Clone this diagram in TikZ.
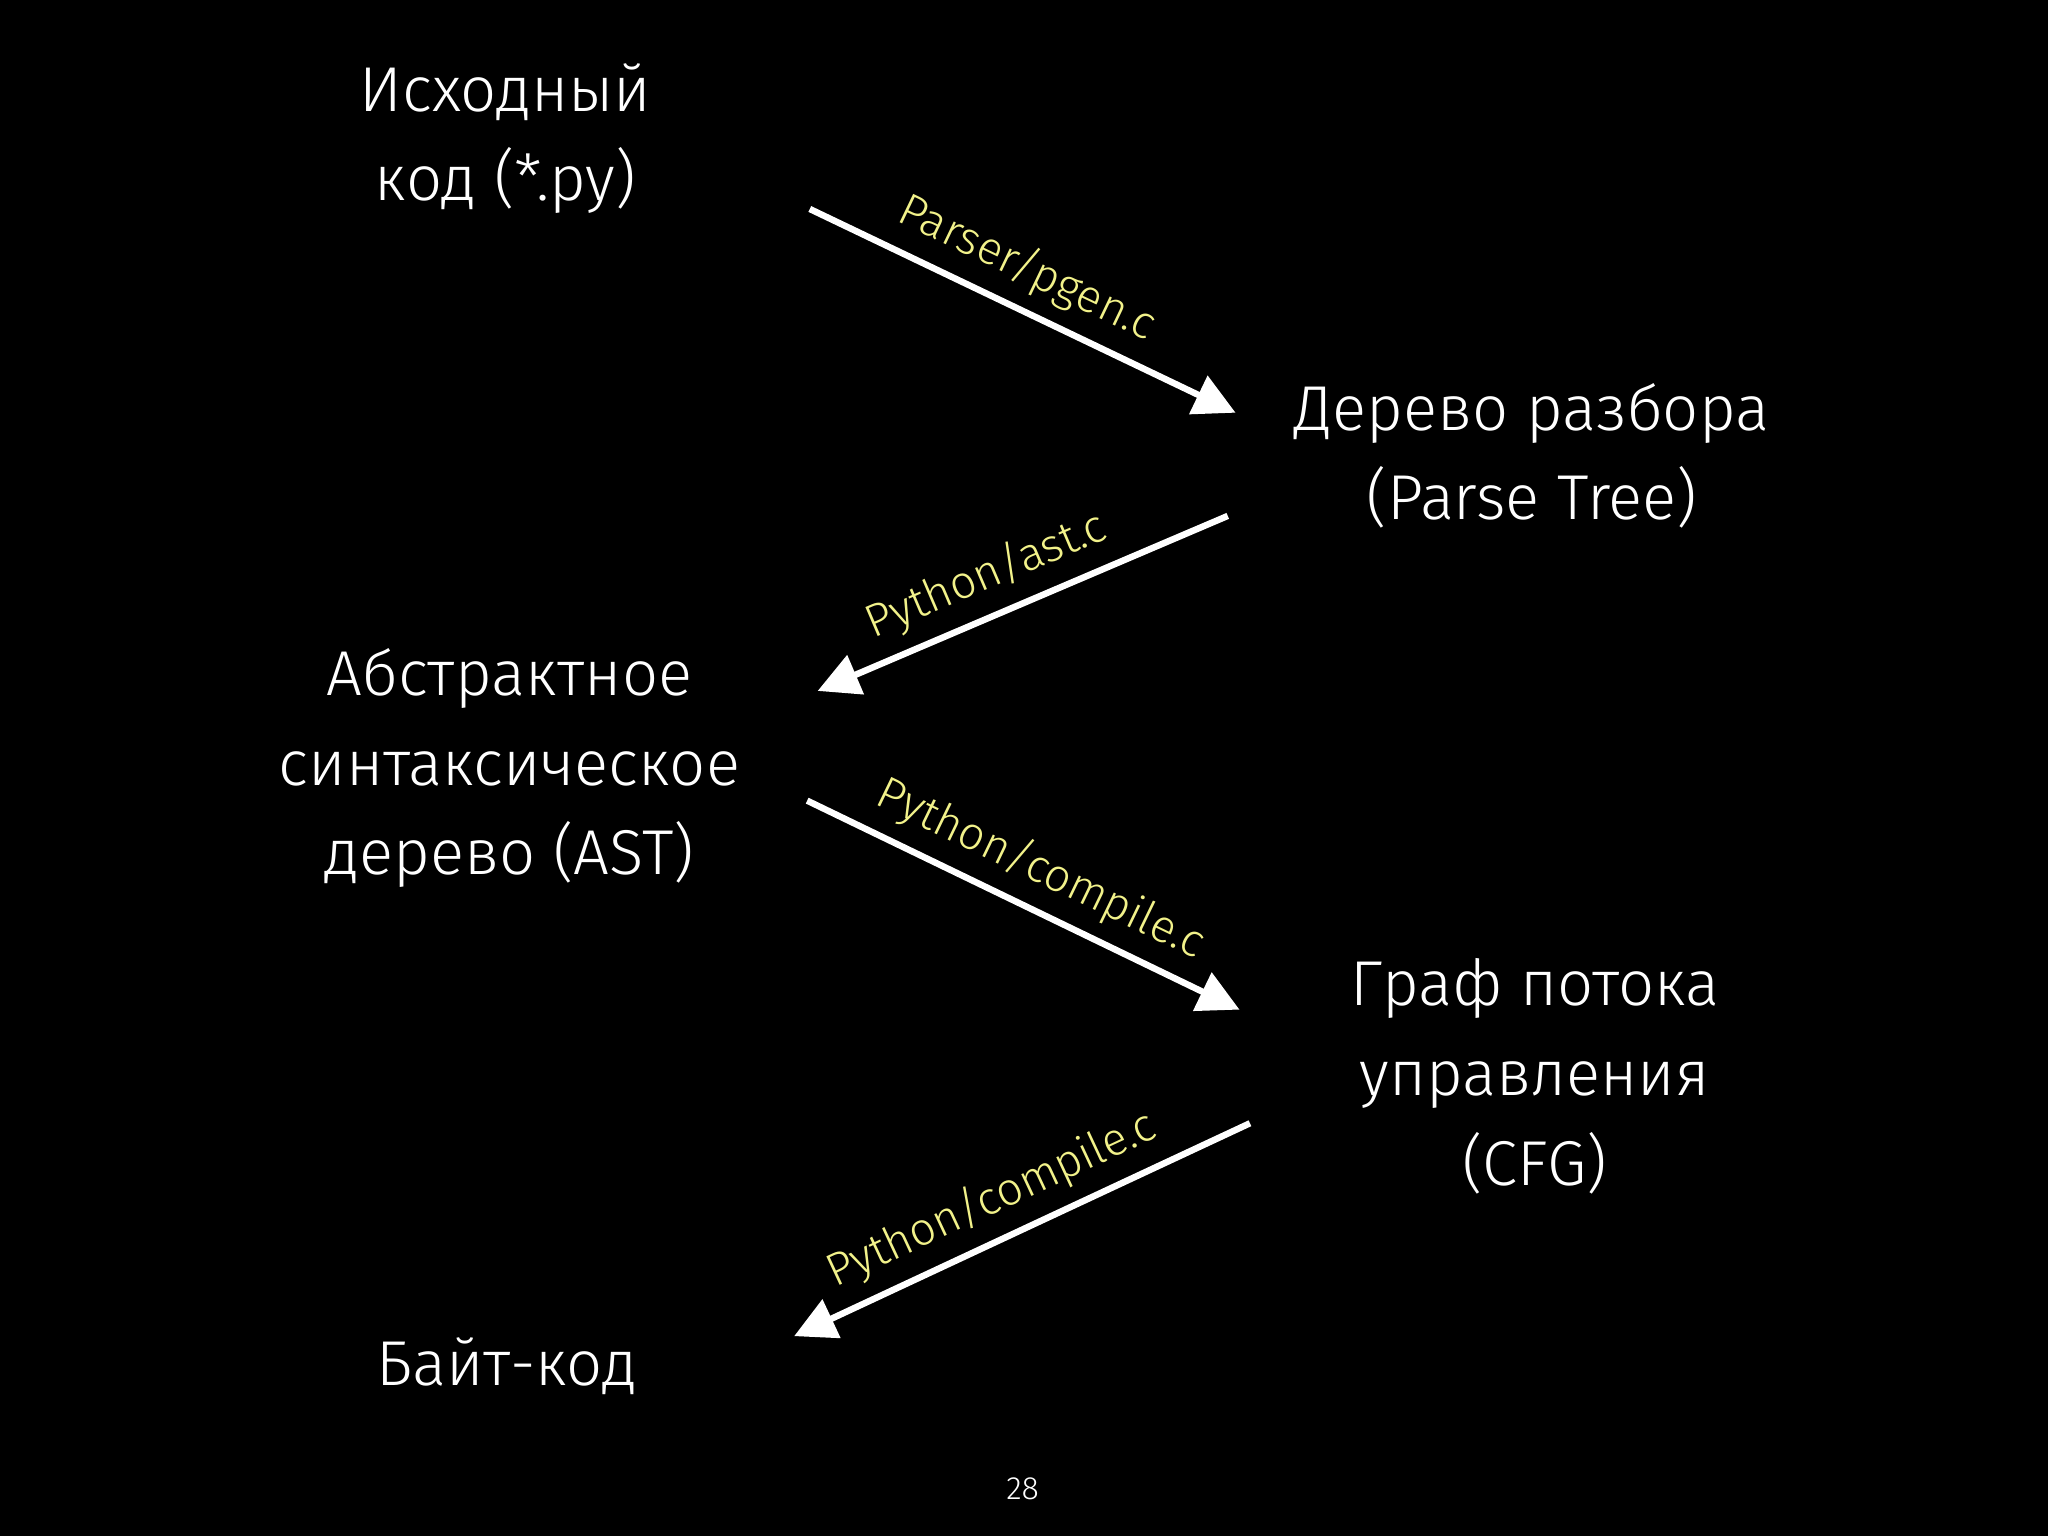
\documentclass[tikz,border=0pt]{standalone}
\usepackage{fontspec}
\setmainfont{Fira Sans Light}[BoldFont=Fira Sans]
\usetikzlibrary{arrows.meta}
\definecolor{lab}{HTML}{F2F28A}
\begin{document}
\begin{tikzpicture}[x=0.01cm,y=-0.01cm,
  main/.style={text=white,align=center,font=\fontsize{13.8}{19.5}\selectfont},
  conn/.style={white,line width=1.4pt,-{Triangle[length=9pt,width=9pt]}},
  lbl/.style={text=lab,font=\fontsize{10}{11}\selectfont,sloped,above,midway,inner sep=3pt}]
\fill[black] (0,0) rectangle (1568,1176);
\useasboundingbox (0,0) rectangle (1568,1176);
\node[main] (src) at (387,106) {Исходный\\код (*.py)};
\node[main] (parse) at (1173,349) {Дерево разбора\\(Parse Tree)};
\node[main] (ast) at (390,588) {Абстрактное\\синтаксическое\\дерево (AST)};
\node[main] (cfg) at (1175,824) {Граф потока\\управления\\(CFG)};
\node[main] (byte) at (388,1046) {Байт-код};
\node[text=white,font=\fontsize{7}{8}\selectfont] (num) at (783,1140) {28};
\coordinate (a1) at (620,160); \coordinate (b1) at (946,316);
\coordinate (a2) at (940,395); \coordinate (b2) at (626,529);
\coordinate (a3) at (618,613); \coordinate (b3) at (949,773);
\coordinate (a4) at (957,860); \coordinate (b4) at (608,1023);
\draw[conn] (a1) -- node[lbl,pos=0.47]{Parser/pgen.c} (b1);
\draw[conn] (a2) -- node[lbl,pos=0.55]{Python/ast.c} (b2);
\draw[conn] (a3) -- node[lbl]{Python/compile.c} (b3);
\draw[conn] (a4) -- node[lbl,pos=0.53]{Python/compile.c} (b4);
\end{tikzpicture}
\end{document}
